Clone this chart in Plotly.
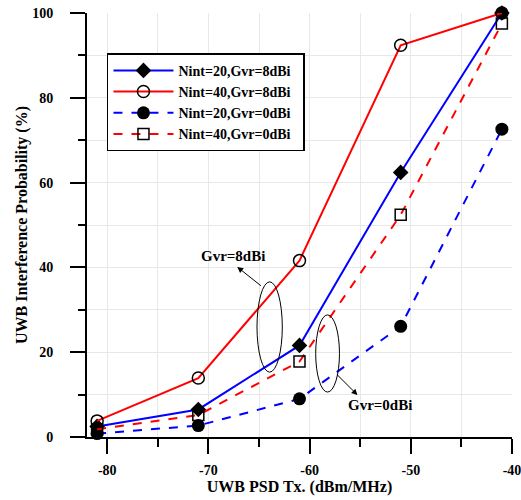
import plotly.graph_objects as go

x_psd = [-81, -71, -61, -51, -41]
n20_g8 = [2.5, 6.5, 21.6, 62.4, 100.0]
n40_g8 = [3.8, 13.9, 41.6, 92.4, 100.0]
n20_g0 = [0.8, 2.7, 9.0, 26.1, 72.6]
n40_g0 = [1.8, 5.2, 17.8, 52.4, 97.5]

names = ["Nint=20,Gvr=8dBi", "Nint=40,Gvr=8dBi", "Nint=20,Gvr=0dBi", "Nint=40,Gvr=0dBi"]
x_ticks = [-80, -70, -60, -50, -40]
y_ticks = [0, 20, 40, 60, 80, 100]

FONT = "Liberation Serif"

fig = go.Figure()
fig.add_trace(go.Scatter(x=x_psd, y=n20_g8, name="<b>%s</b>  " % names[0], mode="lines+markers",
                         line=dict(color="blue", width=2),
                         marker=dict(symbol="diamond", size=12, color="black"),
                         cliponaxis=False))
fig.add_trace(go.Scatter(x=x_psd, y=n40_g8, name="<b>%s</b>  " % names[1], mode="lines+markers",
                         line=dict(color="red", width=2),
                         marker=dict(symbol="circle-open", size=12, color="black", line=dict(width=1.5)),
                         cliponaxis=False))
fig.add_trace(go.Scatter(x=x_psd, y=n20_g0, name="<b>%s</b>  " % names[2], mode="lines+markers",
                         line=dict(color="blue", width=2, dash="dash"),
                         marker=dict(symbol="circle", size=13, color="black"),
                         cliponaxis=False))
fig.add_trace(go.Scatter(x=x_psd, y=n40_g0, name="<b>%s</b>  " % names[3], mode="lines+markers",
                         line=dict(color="red", width=2, dash="dash"),
                         marker=dict(symbol="square-open", size=11, color="black", line=dict(width=1.5)),
                         cliponaxis=False))

# ellipses
fig.add_shape(type="circle", xref="x", yref="y", x0=-65.2, x1=-62.7, y0=15.3, y1=36.6,
              line=dict(color="black", width=1))
fig.add_shape(type="circle", xref="x", yref="y", x0=-59.4, x1=-57.05, y0=10.6, y1=28.8,
              line=dict(color="black", width=1))

# arrows
fig.add_annotation(x=-67.15, y=40.1, ax=-64.67, ay=35.4, xref="x", yref="y", axref="x", ayref="y",
                   text="", showarrow=True, arrowhead=2, arrowsize=1.2, arrowwidth=1, arrowcolor="black")
fig.add_annotation(x=-55.27, y=9.9, ax=-57.45, ay=15.1, xref="x", yref="y", axref="x", ayref="y",
                   text="", showarrow=True, arrowhead=2, arrowsize=1.2, arrowwidth=1, arrowcolor="black")
fig.add_annotation(x=-67.6, y=42.7, text="<b>Gvr=8dBi</b>", showarrow=False,
                   font=dict(family=FONT, size=15, color="black"))
fig.add_annotation(x=-53.0, y=7.5, text="<b>Gvr=0dBi</b>", showarrow=False,
                   font=dict(family=FONT, size=15, color="black"))

fig.update_layout(
    width=521, height=500,
    margin=dict(l=87, r=9, t=13, b=63, autoexpand=False),
    plot_bgcolor="white", paper_bgcolor="white",
    font=dict(family=FONT, size=14, color="black"),
    legend=dict(x=0.047, y=0.905, xanchor="left", yanchor="top",
                bgcolor="white", bordercolor="black", borderwidth=1.5,
                font=dict(family=FONT, size=14, color="black"),
                tracegroupgap=0, itemwidth=60),
    showlegend=True,
)
fig.update_xaxes(
    range=[-82, -40], tickvals=x_ticks, ticktext=["<b>%d</b>" % v for v in x_ticks],
    ticks="outside", ticklen=15, tickwidth=2, tickcolor="black", automargin=False,
    ticklabelstandoff=4, ticklabeloverflow="allow",
    minor=dict(dtick=5, tick0=-80, ticks="outside", ticklen=8, tickwidth=2, tickcolor="black",
               showgrid=True, gridcolor="#e8e8e8", gridwidth=1),
    showline=True, linecolor="black", linewidth=2,
    showgrid=True, gridcolor="#e8e8e8", gridwidth=1,
    zeroline=False,
    title=dict(text="<b>UWB PSD Tx. (dBm/MHz)</b>", font=dict(family=FONT, size=16), standoff=4),
    tickfont=dict(family=FONT, size=14),
)
fig.update_yaxes(
    range=[0, 100], tickvals=y_ticks, ticktext=["<b>%d</b>" % v for v in y_ticks],
    ticks="outside", ticklen=15, tickwidth=2, tickcolor="black", automargin=False,
    ticklabelstandoff=14, ticklabeloverflow="allow",
    minor=dict(dtick=10, tick0=0, ticks="outside", ticklen=7, tickwidth=2, tickcolor="black",
               showgrid=True, gridcolor="#e8e8e8", gridwidth=1),
    showline=True, linecolor="black", linewidth=2,
    showgrid=True, gridcolor="#e8e8e8", gridwidth=1,
    zeroline=False,
    title=dict(text="<b>UWB Interference Probability (%)</b>", font=dict(family=FONT, size=16), standoff=1),
    tickfont=dict(family=FONT, size=14),
)

fig.write_html("out.html", config={"displayModeBar": False},
               post_script="document.body.style.margin='0';document.body.style.overflow='hidden';")
